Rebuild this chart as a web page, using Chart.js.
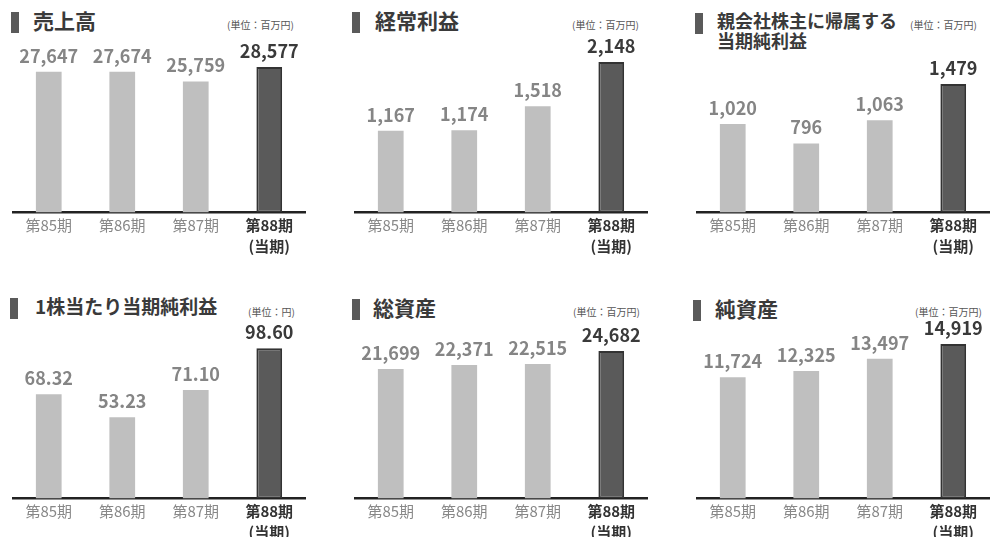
<!DOCTYPE html>
<html lang="ja">
<head>
<meta charset="utf-8">
<script src="https://cdn.jsdelivr.net/npm/chart.js@4"></script>
<style>
body{margin:0;width:994px;height:537px;overflow:hidden;background:#fff;position:relative;font-family:"Noto Sans CJK JP",sans-serif}
canvas{position:absolute}
.mk{position:absolute;width:8px;height:21px;background:#5a5a5a}
.ttl{position:absolute;font-weight:bold;color:#3a3a3a;white-space:nowrap}
.unit{position:absolute;font-size:10px;color:#555;white-space:nowrap}
</style>
</head>
<body>
<script>
// datos (百万円 / 円)
const periodos = ['第85期', '第86期', '第87期', ['第88期', '(当期)']];
const ventas = [27647, 27674, 25759, 28577];
const beneficioOrdinario = [1167, 1174, 1518, 2148];
const beneficioNeto = [1020, 796, 1063, 1479];
const bpa = [68.32, 53.23, 71.10, 98.60];
const activoTotal = [21699, 22371, 22515, 24682];
const patrimonioNeto = [11724, 12325, 13497, 14919];

const FUENTE = '"Noto Sans CJK JP", sans-serif';

const paneles = [
  {titulo: '売上高', unidad: '(単位：百万円)', datos: ventas, dec: 0, x: 12, y: 0, max: 33900,
   mk: [11, 12], tt: [33, 9, 21], un: [227, 17]},
  {titulo: '経常利益', unidad: '(単位：百万円)', datos: beneficioOrdinario, dec: 0, x: 354, y: 0, max: 2463,
   mk: [352, 12], tt: [375, 9, 21], un: [572, 17]},
  {titulo: '親会社株主に帰属する<br>当期純利益', unidad: '(単位：百万円)', datos: beneficioNeto, dec: 0, x: 696, y: 0, max: 1987,
   mk: [695, 13], tt: [717, 10, 18], un: [910, 17]},
  {titulo: '1株当たり当期純利益', unidad: '(単位：円)', datos: bpa, dec: 2, x: 12, y: 270, max: 123.6,
   mk: [10, 298], tt: [35, 295, 19], un: [248, 304]},
  {titulo: '総資産', unidad: '(単位：百万円)', datos: activoTotal, dec: 0, x: 354, y: 270, max: 31566,
   mk: [352, 299], tt: [373, 296, 21], un: [573, 304]},
  {titulo: '純資産', unidad: '(単位：百万円)', datos: patrimonioNeto, dec: 0, x: 696, y: 270, max: 18213,
   mk: [693, 300], tt: [715, 297, 21], un: [915, 304]}
];

function etiquetas(dec){
  return {
    id: 'etiquetas',
    afterDatasetsDraw(chart){
      const ctx = chart.ctx;
      const ds = chart.data.datasets[0];
      chart.getDatasetMeta(0).data.forEach((bar, i) => {
        const v = ds.data[i];
        const txt = dec ? v.toFixed(dec) : v.toLocaleString('en-US');
        ctx.save();
        ctx.font = 'bold 18px ' + FUENTE;
        ctx.fillStyle = i === 3 ? '#3a3a3a' : '#858585';
        ctx.textAlign = 'center';
        ctx.textBaseline = 'middle';
        ctx.fillText(txt, bar.x, bar.y - 16);
        ctx.restore();
      });
    }
  };
}

paneles.forEach(p => {
  const mk = document.createElement('div');
  mk.className = 'mk';
  mk.style.left = p.mk[0] + 'px'; mk.style.top = p.mk[1] + 'px';
  document.body.appendChild(mk);

  const tt = document.createElement('div');
  tt.className = 'ttl';
  tt.innerHTML = p.titulo;
  tt.style.left = p.tt[0] + 'px'; tt.style.top = p.tt[1] + 'px';
  tt.style.fontSize = p.tt[2] + 'px';
  tt.style.lineHeight = (p.tt[2] + 2) + 'px';
  document.body.appendChild(tt);

  const un = document.createElement('div');
  un.className = 'unit';
  un.textContent = p.unidad;
  un.style.left = p.un[0] + 'px'; un.style.top = p.un[1] + 'px';
  document.body.appendChild(un);

  const cv = document.createElement('canvas');
  const alto = p.y === 0 ? 259 : 275;
  cv.width = 294; cv.height = alto;
  cv.style.left = p.x + 'px'; cv.style.top = p.y + 'px';
  document.body.appendChild(cv);

  new Chart(cv, {
    type: 'bar',
    data: {
      labels: periodos,
      datasets: [{
        data: p.datos,
        backgroundColor: ['#bfbfbf', '#bfbfbf', '#bfbfbf', '#5a5a5a'],
        borderColor: ['#bfbfbf', '#bfbfbf', '#bfbfbf', '#333'],
        borderWidth: [0, 0, 0, 2],
        borderSkipped: false,
        barPercentage: 0.35,
        categoryPercentage: 1
      }]
    },
    options: {
      responsive: false,
      devicePixelRatio: 1,
      animation: false,
      layout: {padding: {top: 40}},
      plugins: {legend: {display: false}, tooltip: {enabled: false}},
      scales: {
        x: {
          grid: {display: false, drawTicks: false},
          border: {color: '#222', width: 2.5},
          ticks: {
            padding: 3,
            autoSkip: false,
            maxRotation: 0,
            color: c => c.index === 3 ? '#333' : '#888',
            font: c => c.index === 3
              ? {family: FUENTE, size: 15, weight: 'bold', lineHeight: 1.35}
              : {family: FUENTE, size: 15, lineHeight: 1.35}
          }
        },
        y: {display: false, min: 0, max: p.max}
      }
    },
    plugins: [etiquetas(p.dec)]
  });
});
</script>
</body>
</html>
